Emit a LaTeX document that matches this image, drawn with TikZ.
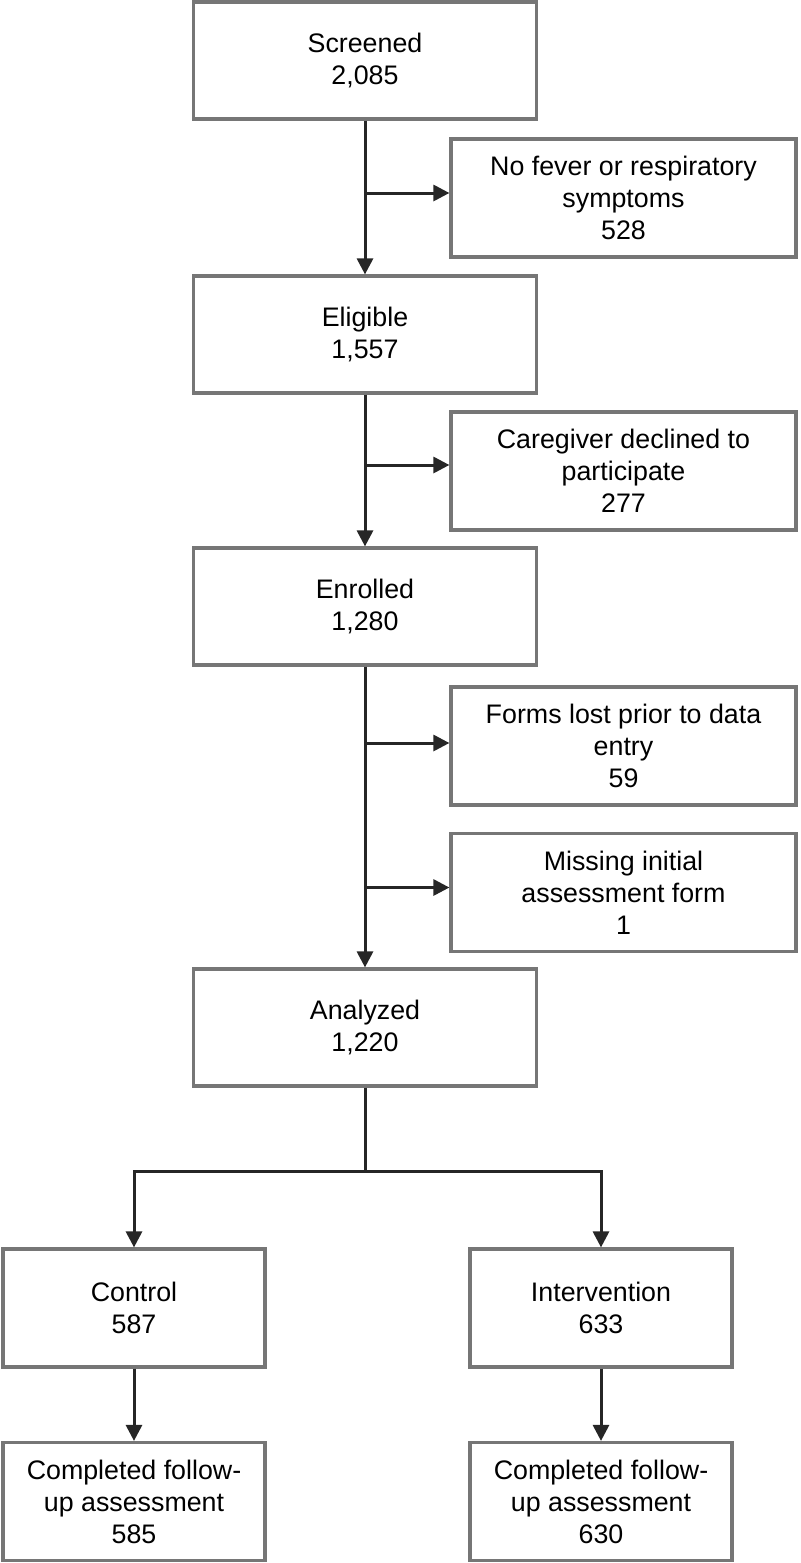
\documentclass[tikz,border=0pt]{standalone}
\usepackage{fontspec}
\setmainfont{Liberation Sans}
\usetikzlibrary{arrows.meta}

\definecolor{boxgray}{HTML}{767676}
\definecolor{linedark}{HTML}{262626}

\tikzset{
    box/.style={draw=boxgray, line width=1.6pt, fill=white, align=center,
        minimum width=171.5pt, minimum height=58.5pt, inner sep=2pt,
        font=\fontsize{13.4}{16}\selectfont},
    sidebox/.style={box, minimum width=172.5pt, minimum height=59pt},
    armbox/.style={box, minimum width=131pt, minimum height=59pt},
    flow/.style={draw=linedark, line width=1.5pt, -{Triangle[length=8pt, width=8pt]}},
    link/.style={draw=linedark, line width=1.5pt}
}

\begin{document}
\begin{tikzpicture}[x=0.5pt, y=-0.5pt]
    \useasboundingbox (0,0) rectangle (800,1563);

    \node[box] (screened) at (365,60.5) {Screened\\2,085};
    \node[sidebox] (nofever) at (623.5,198) {No fever or respiratory\\symptoms\\528};
    \node[box] (eligible) at (365,334.5) {Eligible\\1,557};
    \node[sidebox] (declined) at (623.5,471) {Caregiver declined to\\participate\\277};
    \node[box] (enrolled) at (365,606.5) {Enrolled\\1,280};
    \node[sidebox] (lost) at (623.5,746) {Forms lost prior to data\\entry\\59};
    \node[sidebox] (missing) at (623.5,892.5) {Missing initial\\assessment form\\1};
    \node[box] (analyzed) at (365,1027.5) {Analyzed\\1,220};
    \node[armbox] (control) at (134,1308) {Control\\587};
    \node[armbox] (interv) at (601,1308) {Intervention\\633};
    \node[armbox] (controldone) at (134,1501.5) {Completed follow-\\up assessment\\585};
    \node[armbox] (intervdone) at (601,1501.5) {Completed follow-\\up assessment\\630};

    % main line
    \draw[flow] (screened) -- (eligible);
    \draw[flow] (eligible) -- (enrolled);
    \draw[flow] (enrolled) -- (analyzed);

    % exclusions
    \coordinate (b1) at ([yshift=2.5pt]nofever.west);
    \coordinate (b2) at ([yshift=3pt]declined.west);
    \coordinate (b3) at ([yshift=1.5pt]lost.west);
    \coordinate (b4) at ([yshift=2.5pt]missing.west);
    \draw[flow] (b1 -| screened) -- (b1);
    \draw[flow] (b2 -| eligible) -- (b2);
    \draw[flow] (b3 -| enrolled) -- (b3);
    \draw[flow] (b4 -| enrolled) -- (b4);

    % split into arms
    \coordinate (split) at (365,1171);
    \draw[link] (analyzed) -- (split);
    \draw[flow] (split) -| (control);
    \draw[flow] (split) -| (interv);
    \draw[flow] (control) -- (controldone);
    \draw[flow] (interv) -- (intervdone);
\end{tikzpicture}
\end{document}
